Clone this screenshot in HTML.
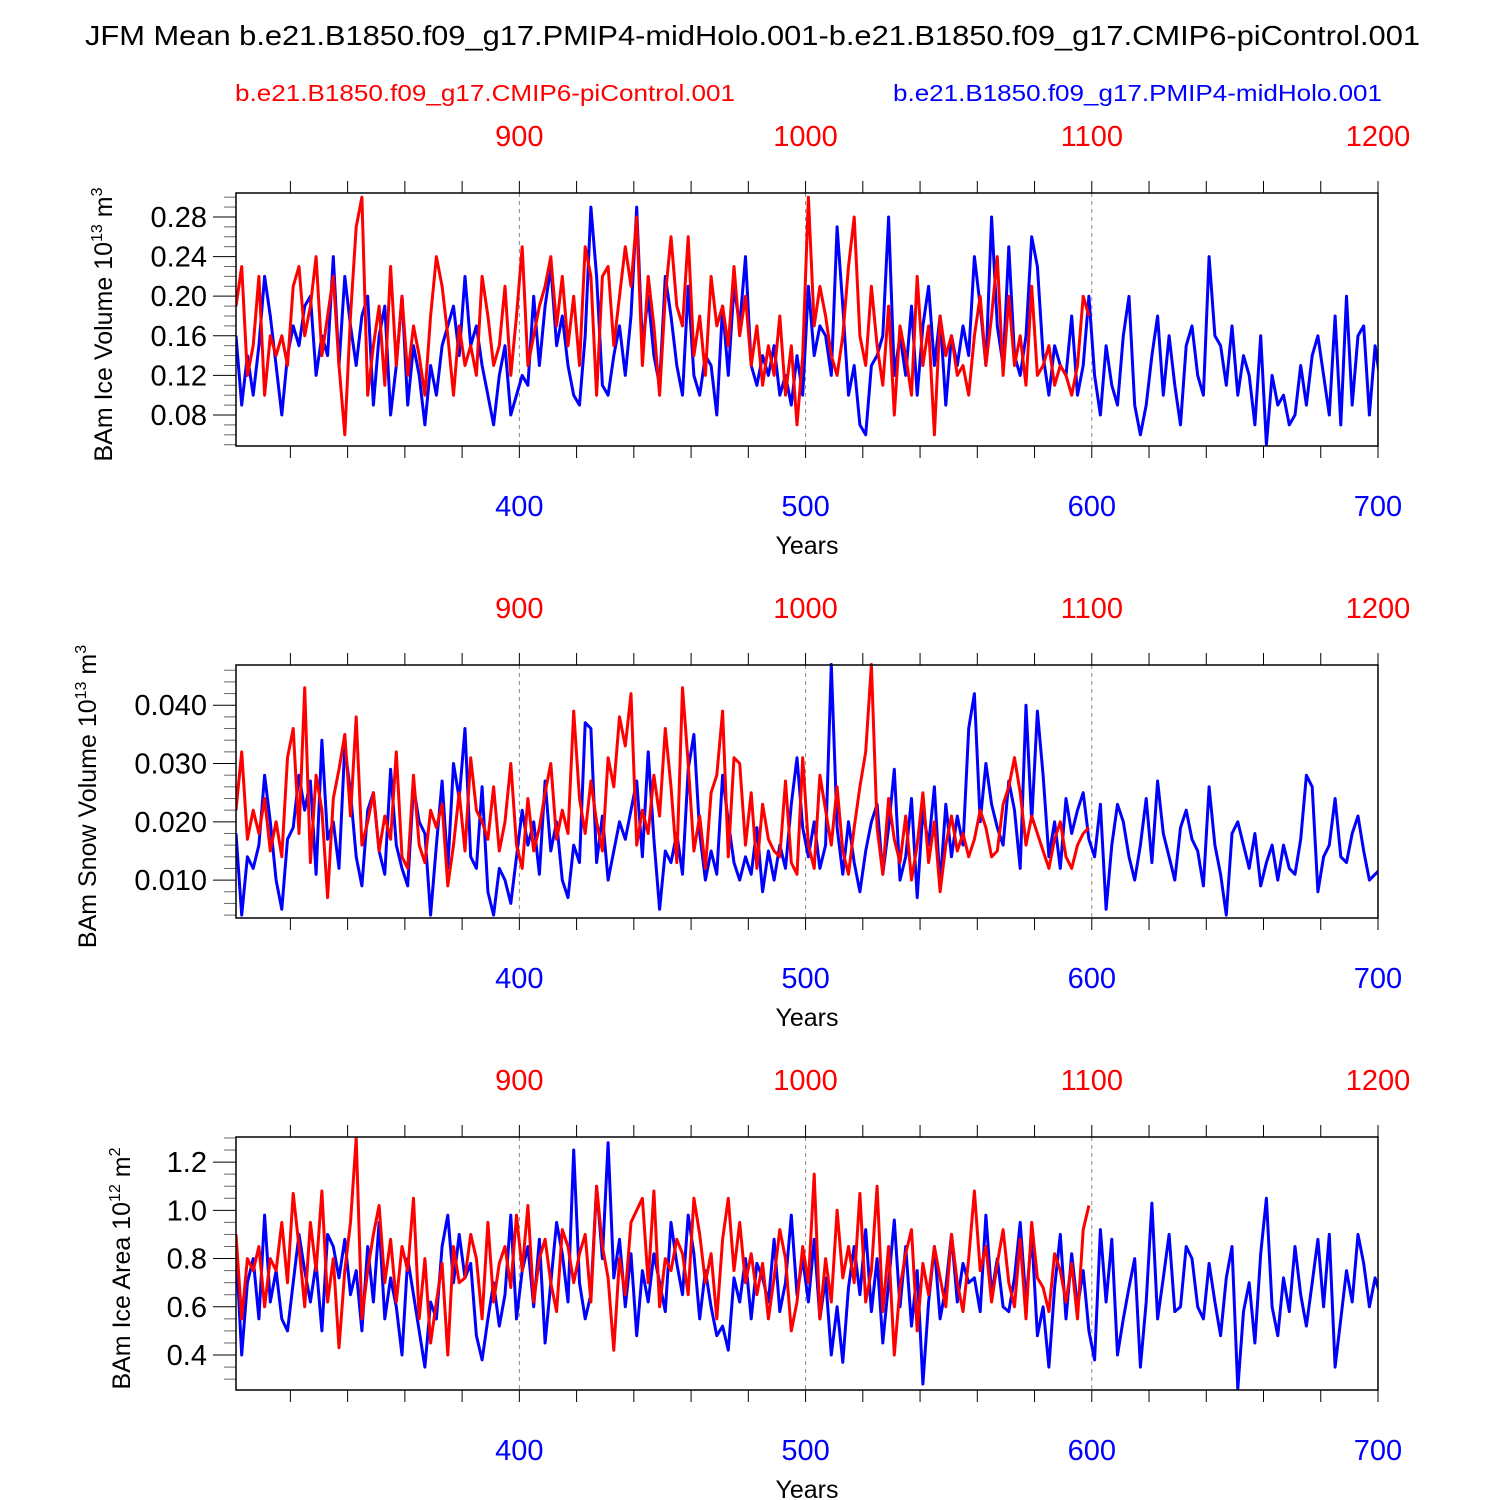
<!DOCTYPE html>
<html><head><meta charset="utf-8">
<style>
html,body{margin:0;padding:0;background:#fff;}
svg{display:block;font-family:"Liberation Sans",sans-serif;}
</style></head>
<body>
<svg id="chart" width="1500" height="1500" viewBox="0 0 1500 1500" xmlns="http://www.w3.org/2000/svg">
<text x="85" y="45" font-size="28" textLength="1335" lengthAdjust="spacingAndGlyphs">JFM Mean b.e21.B1850.f09_g17.PMIP4-midHolo.001-b.e21.B1850.f09_g17.CMIP6-piControl.001</text>
<text x="235" y="101" font-size="23" fill="#ff0000" textLength="500" lengthAdjust="spacingAndGlyphs">b.e21.B1850.f09_g17.CMIP6-piControl.001</text>
<text x="893" y="101" font-size="23" fill="#0000ff" textLength="489" lengthAdjust="spacingAndGlyphs">b.e21.B1850.f09_g17.PMIP4-midHolo.001</text>
</svg>
<script>
const blueStart = 301, redStart = 801, step = 2;
const blueTicks = [400,500,600,700];
const redTicks = [900,1000,1100,1200];
const iceVolTicks = [0.08,0.12,0.16,0.20,0.24,0.28];
const snowTicks = [0.010,0.020,0.030,0.040];
const areaTicks = [0.4,0.6,0.8,1.0,1.2];

const iceVolBlue = [.16,.09,.14,.10,.15,.22,.18,.13,.08,.14,.17,.15,.19,.20,.12,.16,.14,.24,.13,.22,
.17,.13,.18,.20,.09,.16,.19,.08,.13,.20,.09,.15,.12,.07,.13,.10,.15,.17,.19,.14,
.22,.15,.17,.13,.10,.07,.12,.15,.08,.10,.12,.11,.20,.13,.19,.23,.15,.18,.13,.10,
.09,.16,.29,.22,.11,.10,.14,.17,.12,.18,.29,.15,.20,.14,.11,.22,.18,.13,.10,.21,
.12,.10,.14,.13,.08,.19,.12,.21,.17,.24,.13,.11,.14,.12,.15,.10,.12,.09,.14,.10,
.21,.14,.17,.16,.12,.27,.19,.10,.13,.07,.06,.13,.14,.16,.28,.12,.16,.12,.19,.10,
.17,.21,.13,.18,.09,.16,.13,.17,.14,.24,.19,.13,.28,.17,.13,.25,.14,.12,.16,.26,
.23,.14,.10,.15,.13,.12,.18,.10,.13,.20,.12,.08,.15,.11,.09,.16,.20,.09,.06,.09,
.14,.18,.10,.16,.11,.07,.15,.17,.12,.10,.24,.16,.15,.11,.17,.10,.14,.12,.07,.16,
.05,.12,.09,.10,.07,.08,.13,.09,.14,.16,.12,.08,.18,.07,.20,.09,.16,.17,.08,.15,.11];
const iceVolRed = [.19,.23,.12,.15,.22,.10,.16,.14,.16,.13,.21,.23,.16,.19,.24,.14,.18,.22,.13,.06,
.18,.27,.30,.10,.15,.19,.11,.23,.13,.20,.12,.17,.14,.10,.18,.24,.21,.16,.10,.17,
.13,.15,.12,.22,.18,.13,.15,.21,.12,.18,.25,.13,.16,.19,.21,.24,.17,.22,.15,.20,
.13,.25,.22,.10,.22,.23,.15,.20,.25,.21,.28,.13,.22,.17,.10,.20,.26,.19,.17,.26,
.14,.18,.12,.22,.17,.19,.15,.23,.16,.20,.13,.17,.11,.15,.12,.18,.10,.15,.07,.14,
.30,.17,.21,.18,.14,.12,.16,.23,.28,.16,.13,.21,.15,.11,.19,.08,.17,.14,.10,.22,
.13,.17,.06,.18,.14,.16,.12,.13,.10,.16,.20,.13,.18,.24,.12,.20,.13,.16,.11,.21,
.12,.13,.15,.11,.13,.12,.10,.13,.20,.18];

const snowBlue = [.018,.004,.014,.012,.016,.028,.020,.010,.005,.017,.019,.028,.022,.027,.011,.034,.017,.020,.012,.033,
.025,.014,.009,.022,.025,.015,.011,.029,.016,.012,.009,.026,.020,.018,.004,.016,.027,.012,.030,.024,
.036,.014,.012,.026,.008,.004,.012,.010,.006,.014,.022,.016,.020,.011,.027,.015,.020,.010,.007,.016,
.013,.037,.036,.013,.021,.010,.015,.020,.017,.022,.027,.014,.032,.017,.005,.015,.013,.018,.011,.029,
.035,.018,.010,.015,.011,.028,.020,.013,.010,.014,.011,.019,.008,.015,.010,.016,.012,.023,.031,.019,
.014,.020,.012,.016,.047,.019,.011,.020,.013,.008,.015,.020,.023,.011,.019,.029,.010,.014,.024,.007,
.022,.016,.026,.009,.023,.014,.021,.016,.036,.042,.020,.030,.023,.019,.016,.027,.022,.012,.040,.020,
.039,.028,.014,.020,.012,.024,.018,.022,.025,.017,.014,.023,.005,.016,.023,.020,.014,.010,.016,.024,
.013,.027,.018,.014,.010,.019,.022,.017,.015,.009,.026,.016,.011,.004,.018,.020,.016,.012,.018,.009,
.013,.016,.010,.016,.012,.011,.017,.028,.026,.008,.014,.016,.024,.014,.013,.018,.021,.015,.010,.011,.012];
const snowRed = [.022,.032,.017,.022,.018,.024,.015,.020,.014,.031,.036,.018,.043,.013,.028,.022,.007,.024,.029,.035,
.021,.038,.016,.020,.025,.015,.021,.017,.032,.014,.012,.028,.016,.013,.022,.019,.023,.009,.016,.025,
.015,.031,.022,.020,.017,.026,.015,.020,.030,.016,.012,.024,.015,.019,.025,.030,.017,.022,.018,.039,
.024,.018,.027,.020,.015,.031,.026,.038,.033,.042,.016,.022,.018,.028,.021,.036,.026,.013,.043,.030,
.015,.021,.012,.025,.028,.039,.014,.031,.030,.016,.025,.012,.023,.017,.015,.014,.027,.013,.011,.031,
.016,.012,.028,.022,.016,.026,.015,.011,.019,.026,.032,.047,.019,.011,.024,.017,.013,.021,.010,.016,
.025,.013,.020,.008,.016,.021,.015,.018,.014,.017,.022,.019,.014,.015,.023,.026,.031,.025,.016,.021,
.018,.015,.012,.017,.020,.014,.012,.016,.018,.019];

const areaBlue = [.85,.40,.70,.80,.55,.98,.62,.75,.55,.50,.70,.90,.75,.62,.78,.50,.90,.85,.72,.88,
.65,.75,.50,.85,.62,.95,.55,.72,.60,.40,.80,.65,.50,.35,.62,.55,.85,.98,.70,.90,
.72,.78,.48,.38,.55,.70,.52,.65,.98,.55,.75,.85,.60,.88,.45,.70,.95,.82,.62,1.25,
.70,.55,.65,1.10,.80,1.28,.72,.88,.60,.82,.48,.75,.62,.82,.70,.58,.95,.78,.65,.98,
.82,.55,.75,.60,.48,.52,.42,.72,.62,.80,.55,.78,.72,.62,.88,.58,.70,.98,.65,.80,
.62,.88,.55,.72,.40,.60,.37,.68,.85,.65,.92,.58,.80,.45,.70,.96,.60,.85,.52,.75,
.28,.62,.85,.55,.68,.90,.62,.78,.70,.72,.58,.98,.65,.80,.60,.58,.72,.95,.62,.90,
.48,.60,.35,.68,.90,.55,.82,.60,.75,.50,.38,.92,.62,.88,.40,.55,.68,.80,.35,.62,
1.03,.55,.72,.90,.58,.60,.85,.80,.60,.55,.78,.62,.48,.72,.85,.26,.58,.70,.45,.82,
1.05,.60,.48,.72,.58,.85,.65,.52,.70,.88,.60,.90,.35,.55,.75,.62,.90,.78,.60,.72,.64];
const areaRed = [.90,.55,.80,.75,.85,.60,.80,.75,.95,.70,1.07,.85,.60,.95,.75,1.08,.62,.80,.43,.75,
.95,1.30,.55,.75,.90,1.02,.70,.88,.62,.85,.75,1.05,.55,.80,.45,.62,.78,.40,.85,.70,
.72,.90,.80,.55,.95,.62,.78,.85,.68,.98,.75,1.02,.62,.80,.88,.70,.58,.92,.85,.70,
.82,.90,.62,1.10,.85,.72,.42,.80,.65,.95,1.00,1.05,.70,1.08,.60,.80,.75,.88,.82,.65,
1.05,.90,.70,.82,.55,.88,1.05,.75,.95,.70,.82,.65,.78,.55,.72,.92,.80,.50,.62,.85,
.70,1.15,.55,.80,.62,1.00,.72,.85,.70,1.07,.62,.75,1.10,.58,.85,.40,.68,.82,.92,.50,
.78,.65,.85,.72,.60,.90,.70,.58,.80,1.08,.75,.85,.62,.78,.92,.70,.60,.88,.55,.95,
.72,.68,.58,.82,.75,.62,.78,.55,.92,1.02];

const NS = "http://www.w3.org/2000/svg";
const svg = document.getElementById('chart');
function mk(tag, attrs, parent){ const e=document.createElementNS(NS,tag); for(const k in attrs) e.setAttribute(k,attrs[k]); (parent||svg).appendChild(e); return e; }

const X0=236, X1=1378, YR0=301, YR1=700;
function xBlue(yr){ return X0 + (yr-YR0)/(YR1-YR0)*(X1-X0); }
function xRed(yr){ return xBlue(yr-500); }

const panels = [
 {name:'ice-volume', top:193, bot:446, vTop:0.3042, vBot:0.0487, ticks:iceVolTicks, minor:0.01, dec:2, blue:iceVolBlue, red:iceVolRed,
  label:['BAm Ice Volume 10','13',' m','3'], lx:112},
 {name:'snow-volume', top:665, bot:918, vTop:0.0469, vBot:0.0035, ticks:snowTicks, minor:0.002, dec:3, blue:snowBlue, red:snowRed,
  label:['BAm Snow Volume 10','13',' m','3'], lx:96},
 {name:'ice-area', top:1137, bot:1390, vTop:1.304, vBot:0.255, ticks:areaTicks, minor:0.05, dec:1, blue:areaBlue, red:areaRed,
  label:['BAm Ice Area 10','12',' m','2'], lx:130}
];

panels.forEach(p=>{
  const g = mk('g',{});
  
  
  const yS = v => p.top + (p.vTop - v)/(p.vTop - p.vBot)*(p.bot-p.top);
  [400,500,600].forEach(yr=>{
    const l=mk('line',{x1:xBlue(yr),x2:xBlue(yr),y1:p.top,y2:p.bot,stroke:'#888','stroke-width':1,'stroke-dasharray':'4,4'},g);
    
    
  });
  for(let yr=320; yr<=700; yr+=20){
    const x=xBlue(yr);
    mk('line',{x1:x,x2:x,y1:p.top,y2:p.top-12,stroke:'#000','stroke-width':1},g);
    mk('line',{x1:x,x2:x,y1:p.bot,y2:p.bot+12,stroke:'#000','stroke-width':1},g);
  }
  const start = Math.ceil(p.vBot/p.minor-1e-6);
  for(let k=start; k*p.minor<=p.vTop+1e-9; k++){
    const v=k*p.minor; const y=yS(v);
    const isMajor = p.ticks.some(t=>Math.abs(t-v)<1e-6);
    mk('line',{x1:X0,x2:X0-(isMajor?23:12),y1:y,y2:y,stroke:isMajor?'#000':'#666','stroke-width':1},g);
  }
  p.ticks.forEach(t=>{
    const tx=mk('text',{x:207,y:yS(t)+10,'font-size':29,'text-anchor':'end'},g);
    tx.textContent=t.toFixed(p.dec);
    
    
  });
  blueTicks.forEach(t=>{
    const tx=mk('text',{x:xBlue(t),y:p.bot+70,'font-size':29,'text-anchor':'middle',fill:'#0000ff'},g);
    tx.textContent=t;
    
    
  });
  redTicks.forEach(t=>{
    const tx=mk('text',{x:xRed(t),y:p.top-47,'font-size':29,'text-anchor':'middle',fill:'#ff0000'},g);
    tx.textContent=t;
    
    
  });
  const xt=mk('text',{x:807,y:p.bot+108,'font-size':25,'text-anchor':'middle'},g);
  xt.textContent='Years';
  
  
  const cy=(p.top+p.bot)/2+5;
  const yt=mk('text',{x:0,y:0,'font-size':25,'text-anchor':'middle',transform:`translate(${p.lx},${cy}) rotate(-90)`},g);
  
  
  const parts=p.label;
  const t1=mk('tspan',{},yt); t1.textContent=parts[0];
  const t2=mk('tspan',{dy:-10,'font-size':16},yt); t2.textContent=parts[1];
  const t3=mk('tspan',{dy:10},yt); t3.textContent=parts[2];
  const t4=mk('tspan',{dy:-10,'font-size':16},yt); t4.textContent=parts[3];
  const clipId='clip-'+p.name;
  const cp=mk('clipPath',{id:clipId},g); mk('rect',{x:X0,y:p.top-2,width:X1-X0,height:p.bot-p.top+2},cp);
  const bpts=p.blue.map((v,i)=>xBlue(blueStart+i*step).toFixed(1)+','+yS(v).toFixed(1)).join(' ');
  const bl=mk('polyline',{points:bpts,fill:'none',stroke:'#0000ff','stroke-width':3,'stroke-linejoin':'round','clip-path':`url(#${clipId})`},g);
  
  
  const rpts=p.red.map((v,i)=>xRed(redStart+i*step).toFixed(1)+','+yS(v).toFixed(1)).join(' ');
  const rl=mk('polyline',{points:rpts,fill:'none',stroke:'#ff0000','stroke-width':3,'stroke-linejoin':'round','clip-path':`url(#${clipId})`},g);
  
  
  const box=mk('rect',{x:X0,y:p.top,width:X1-X0,height:p.bot-p.top,fill:'none',stroke:'#000','stroke-width':1.5},g);
  
  
});
</script>
</body></html>
